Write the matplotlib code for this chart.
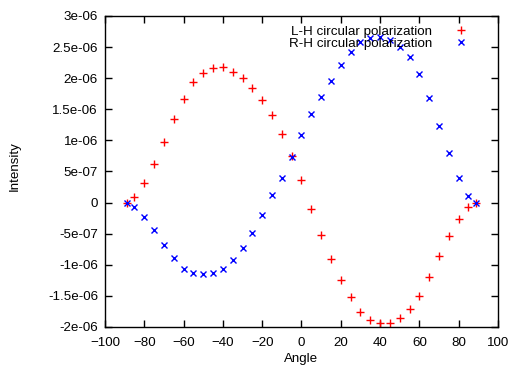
import numpy as np
import matplotlib
matplotlib.use("Agg")
import matplotlib.pyplot as plt
from matplotlib.ticker import FuncFormatter

# angles sampled every 5 degrees, endpoints at +-89
angle = [-89, -85, -80, -75, -70, -65, -60, -55, -50, -45, -40, -35, -30, -25, -20,
         -15, -10, -5, 0, 5, 10, 15, 20, 25, 30, 35, 40, 45, 50, 55, 60, 65, 70,
         75, 80, 85, 89]

# L-H circular polarization (units of 1e-6)
lh = [0.0, 0.095, 0.31, 0.625, 0.98, 1.344, 1.666, 1.934, 2.08, 2.17, 2.175, 2.10,
      2.0, 1.84, 1.655, 1.40, 1.098, 0.754, 0.363, -0.108, -0.526, -0.9, -1.244,
      -1.51, -1.754, -1.888, -1.93, -1.93, -1.85, -1.706, -1.497, -1.19, -0.864,
      -0.54, -0.264, -0.07, 0.0]

# R-H circular polarization (units of 1e-6)
rh = [0.0, -0.066, -0.226, -0.446, -0.68, -0.896, -1.062, -1.137, -1.153, -1.127,
      -1.062, -0.928, -0.735, -0.483, -0.194, 0.117, 0.40, 0.728, 1.082, 1.424,
      1.70, 1.96, 2.217, 2.42, 2.577, 2.646, 2.662, 2.62, 2.50, 2.336, 2.07, 1.677,
      1.23, 0.79, 0.395, 0.11, 0.0]

plt.rcParams['font.family'] = ['Liberation Sans', 'DejaVu Sans']
fs = 9.6

fig = plt.figure(figsize=(5.11, 3.67), dpi=100)
ax = fig.add_axes([0.2055, 0.109, 0.769, 0.8475])

ax.plot(angle, np.array(lh) * 1e-6, '+', color='#ff0000', markersize=6,
        markeredgewidth=1, label='L-H circular polarization')
ax.plot(angle, np.array(rh) * 1e-6, 'x', color='#0000ff', markersize=5,
        markeredgewidth=1, label='R-H circular polarization')

ax.set_xlim(-100, 100)
ax.set_ylim(-2e-6, 3e-6)
ax.set_xticks(np.arange(-100, 101, 20))
ax.set_yticks(np.arange(-2e-6, 3.01e-6, 0.5e-6))


def gfmt(v, pos):
    # gnuplot-like %g labels
    if abs(v) < 1e-12:
        return '0'
    return '%g' % v


ax.yaxis.set_major_formatter(FuncFormatter(gfmt))
ax.tick_params(direction='in', top=True, right=True, length=5, width=1,
               labelsize=fs, colors='black')
ax.tick_params(axis='x', pad=7)
ax.tick_params(axis='y', pad=5)
for sp in ax.spines.values():
    sp.set_linewidth(1)

ax.set_xlabel('Angle', fontsize=fs)
ax.set_ylabel('Intensity', fontsize=fs)
ax.xaxis.set_label_coords(0.5, -0.085)
ax.yaxis.set_label_coords(-0.214, 0.518)

ax.legend(loc='upper right', frameon=False, markerfirst=False, fontsize=fs,
          handlelength=1.5, handletextpad=1.4, labelspacing=0.0,
          borderaxespad=0.3, bbox_to_anchor=(0.955, 1.0))

fig.savefig('out.png', dpi=100)
